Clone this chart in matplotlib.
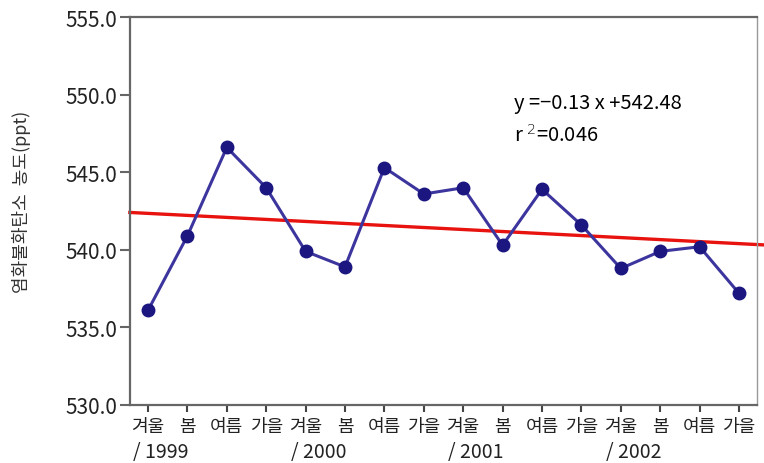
import matplotlib
matplotlib.use('Agg')
import matplotlib.pyplot as plt
import numpy as np

plt.rcParams['font.family'] = ['Noto Sans CJK KR', 'DejaVu Sans']
plt.rcParams['font.weight'] = 'light'

# 계절별 염화불화탄소 농도 (1999 겨울 ~ 2002 가을)
seasons = ['겨울', '봄', '여름', '가을'] * 4
years = ['/ 1999', '/ 2000', '/ 2001', '/ 2002']
conc = [536.1, 540.9, 546.6, 544.0,
        539.9, 538.9, 545.3, 543.6,
        544.0, 540.3, 543.9, 541.6,
        538.8, 539.9, 540.2, 537.2]
slope = -0.13
intercept = 542.48
r2 = 0.046

x = np.arange(1, len(conc) + 1)

fig = plt.figure(figsize=(7.64, 4.64), dpi=100)
ax = fig.add_axes([0.170, 0.125, 0.821, 0.836])

ax.plot(x, conc, color='#3d359e', linewidth=2.2, marker='o',
        markersize=9, markerfacecolor='#1b1680', markeredgecolor='#1b1680',
        zorder=3)

# 회귀직선
xl = np.array([0.54, 16.63])
ax.plot(xl, slope * xl + intercept, color='#e8120e', linewidth=2.4,
        clip_on=False, zorder=2)

ax.text(10.3, 549.5, 'y =−0.13 x +542.48', fontsize=14.5, ha='left', va='center')
ax.text(10.3, 547.4, 'r $^{2}$=' + f'{r2:.3f}', fontsize=14.5, ha='left', va='center')

ax.set_xlim(0.54, 16.46)
ax.set_ylim(530, 555)
ax.set_yticks(np.arange(530, 556, 5))
ax.set_yticklabels([f'{v:.1f}' for v in np.arange(530, 556, 5)],
                   fontsize=15, color='#222222')
ax.set_xticks(x)
ax.set_xticklabels(seasons, fontsize=13, color='#222222')
ax.tick_params(axis='y', length=7, width=1.5, color='#666666', pad=2)
ax.tick_params(axis='x', length=5, width=1.5, color='#444444', pad=4)

for i, yr in enumerate(years):
    ax.text(1 + 4 * i - 0.38, -0.12, yr, transform=ax.get_xaxis_transform(),
            fontsize=14, color='#222222', ha='left', va='center')

for side in ['left', 'top', 'right', 'bottom']:
    ax.spines[side].set_color('#666666')
    ax.spines[side].set_linewidth(1.6)
ax.spines['right'].set_color('#999999')
ax.spines['right'].set_linewidth(1.0)

fig.text(0.028, 0.565, '염화불화탄소  농도(ppt)', rotation=90, fontsize=13,
         color='#333333', ha='center', va='center')

fig.savefig('out.png', dpi=100)
